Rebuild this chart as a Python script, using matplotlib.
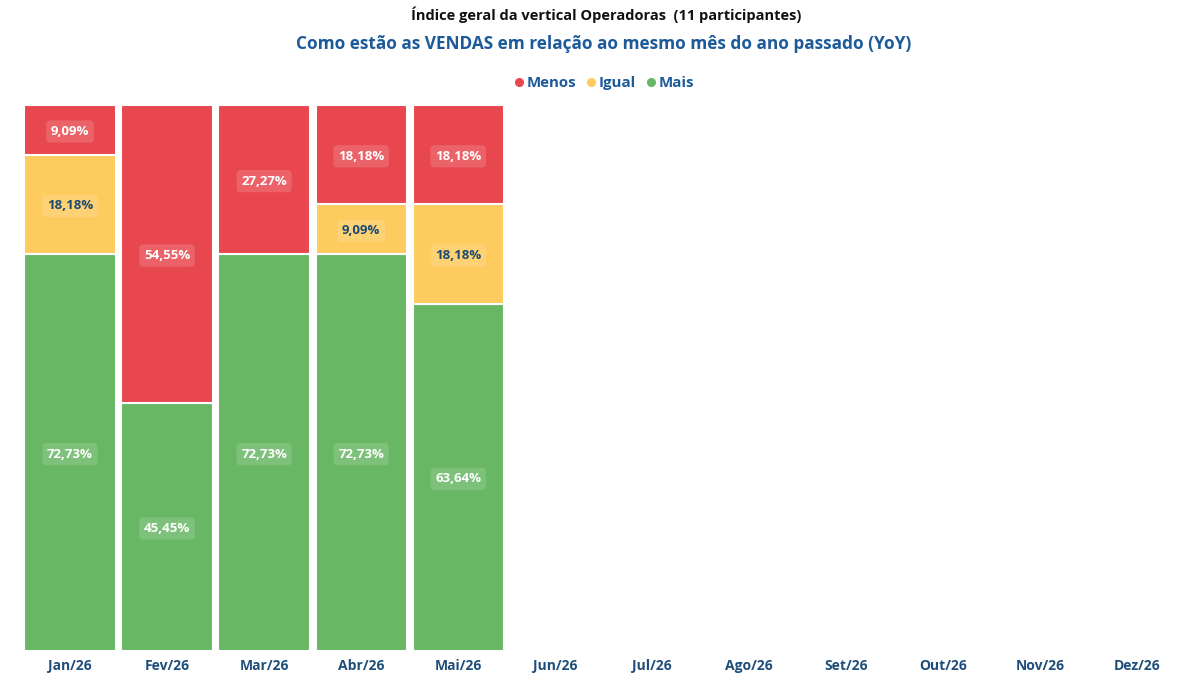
import matplotlib
matplotlib.use("Agg")
import matplotlib.pyplot as plt
from matplotlib.lines import Line2D
import numpy as np

plt.rcParams['font.family'] = ['Open Sans', 'DejaVu Sans']

months = ["Jan/26", "Fev/26", "Mar/26", "Abr/26", "Mai/26", "Jun/26",
          "Jul/26", "Ago/26", "Set/26", "Out/26", "Nov/26", "Dez/26"]
mais  = [72.73, 45.45, 72.73, 72.73, 63.64, None, None, None, None, None, None, None]
igual = [18.18, 0.00, 0.00, 9.09, 18.18, None, None, None, None, None, None, None]
menos = [9.09, 54.55, 27.27, 18.18, 18.18, None, None, None, None, None, None, None]

RED = "#E8474F"
YEL = "#FDCB5E"
GRN = "#67B765"
BLUE = "#1C5A99"
TICK = "#1F4E7A"

W, H = 1200, 675
fig = plt.figure(figsize=(12, 6.75), dpi=100)
fig.patch.set_facecolor("white")
ax = fig.add_axes([21.5 / W, (H - 651) / H, (1186 - 21.5) / W, (651 - 105) / H])

x = np.arange(len(months))
width = 0.94

def fmt(v):
    return f"{v:.2f}".replace(".", ",") + "%"

for i in range(len(months)):
    if mais[i] is None:
        continue
    segs = [(mais[i], GRN, "white"), (igual[i], YEL, "#1B4A72"), (menos[i], RED, "white")]
    bottom = 0.0
    for val, col, tcol in segs:
        if val and val > 0:
            ax.bar(x[i], val, width=width, bottom=bottom, color=col,
                   edgecolor="white", linewidth=1.5)
            ax.text(x[i], bottom + val / 2 - 0.3, fmt(val), ha="center", va="center",
                    fontsize=9.5, fontweight="bold", color=tcol,
                    bbox=dict(boxstyle="round,pad=0.35,rounding_size=0.3",
                              facecolor="white", alpha=0.15, edgecolor="none"))
        bottom += val

ax.set_xlim(-0.5, len(months) - 0.5)
ax.set_ylim(0, 100)
ax.set_xticks(x)
ax.set_xticklabels(months, fontsize=10, fontweight="bold", color=TICK)
ax.tick_params(axis="x", length=0, pad=6)
ax.set_yticks([])
for s in ax.spines.values():
    s.set_visible(False)

fig.text(606 / W, 1 - 15 / H, "Índice geral da vertical Operadoras  (11 participantes)",
         ha="center", va="center", fontsize=10.5, fontweight="bold", color="#111111")
fig.text(604 / W, 1 - 44 / H, "Como estão as VENDAS em relação ao mesmo mês do ano passado (YoY)",
         ha="center", va="center", fontsize=12.4, fontweight="bold", color=BLUE)

handles = [Line2D([0], [0], marker="o", linestyle="none", markersize=5.5,
                  markerfacecolor=c, markeredgecolor=c) for c in (RED, YEL, GRN)]
leg = fig.legend(handles, ["Menos", "Igual", "Mais"], loc="center",
                 bbox_to_anchor=(603 / W, 1 - 83 / H), ncol=3, frameon=False,
                 handletextpad=0.0, columnspacing=0.5, handlelength=1.0,
                 prop=dict(size=10.8, weight="bold"))
for t in leg.get_texts():
    t.set_color(BLUE)

fig.savefig("out.png", dpi=100, facecolor="white")
